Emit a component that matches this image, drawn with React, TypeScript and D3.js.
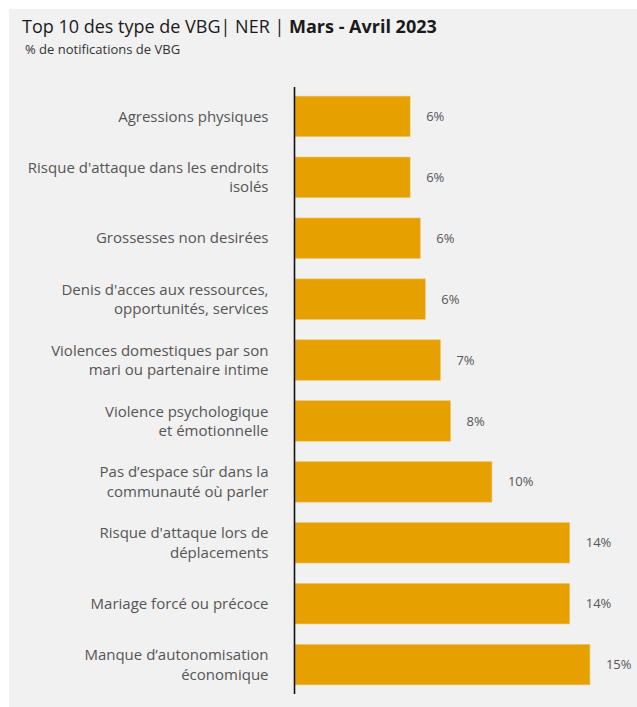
import React from "react";
import * as d3 from "d3";

const categories: string[][] = [
  ["Agressions physiques"],
  ["Risque d'attaque dans les endroits", "isolés"],
  ["Grossesses non desirées"],
  ["Denis d'acces aux ressources,", "opportunités, services"],
  ["Violences domestiques par son", "mari ou partenaire intime"],
  ["Violence psychologique", "et émotionnelle"],
  ["Pas d’espace sûr dans la", "communauté où parler"],
  ["Risque d'attaque lors de", "déplacements"],
  ["Mariage forcé ou précoce"],
  ["Manque d’autonomisation", "économique"],
];
const values: number[] = [5.7, 5.7, 6.2, 6.45, 7.2, 7.7, 9.75, 13.6, 13.6, 14.6];

const W = 637;
const H = 707;
const FONT = "'Open Sans', 'Noto Sans', sans-serif";

export default function App() {
  const ids = categories.map((_, i) => String(i));
  const y = d3
    .scaleBand<string>()
    .domain(ids)
    .range([87, 694])
    .paddingInner(0.335)
    .paddingOuter(0.15);
  const x = d3.scaleLinear().domain([0, 16]).range([295, 295 + 16 * 20.2]);
  const fmt = (v: number) => d3.format(".0%")(v / 100);
  const lineH = 19.3;

  return (
    <svg
      width={W}
      height={H}
      style={{ position: "absolute", left: 0, top: 0, display: "block" }}
      fontFamily={FONT}
    >
      <rect x={0} y={0} width={W} height={H} fill="#ffffff" />
      <rect x={9} y={9} width={W - 9} height={H - 9} fill="#f1f1f1" />
      <text x={22} y={33} fontSize={18} fill="#1a1a1a">
        Top 10 des type de VBG| NER |{" "}
        <tspan fontWeight="bold">Mars - Avril 2023</tspan>
      </text>
      <text x={25} y={54} fontSize={13} fill="#333">
        % de notifications de VBG
      </text>
      {values.map((v, i) => {
        const yy = y(String(i))!;
        const bh = y.bandwidth();
        const cy = yy + bh / 2;
        const lines = categories[i];
        const start = cy - ((lines.length - 1) * lineH) / 2;
        return (
          <g key={i}>
            <rect
              x={x(0)}
              y={yy}
              width={x(v) - x(0)}
              height={bh}
              fill="#E6A100"
              stroke="#F0C666"
              strokeWidth={0.6}
            />
            <text
              x={x(v) + 16}
              y={cy}
              dy="0.35em"
              fontSize={13}
              fill="#555"
            >
              {fmt(v)}
            </text>
            <text textAnchor="end" fontSize={15} fill="#555">
              {lines.map((l, j) => (
                <tspan key={j} x={268.5} y={start + j * lineH} dy="0.35em">
                  {l}
                </tspan>
              ))}
            </text>
          </g>
        );
      })}
      <line x1={294.5} x2={294.5} y1={87} y2={694} stroke="#111" strokeWidth={1.6} />
    </svg>
  );
}
